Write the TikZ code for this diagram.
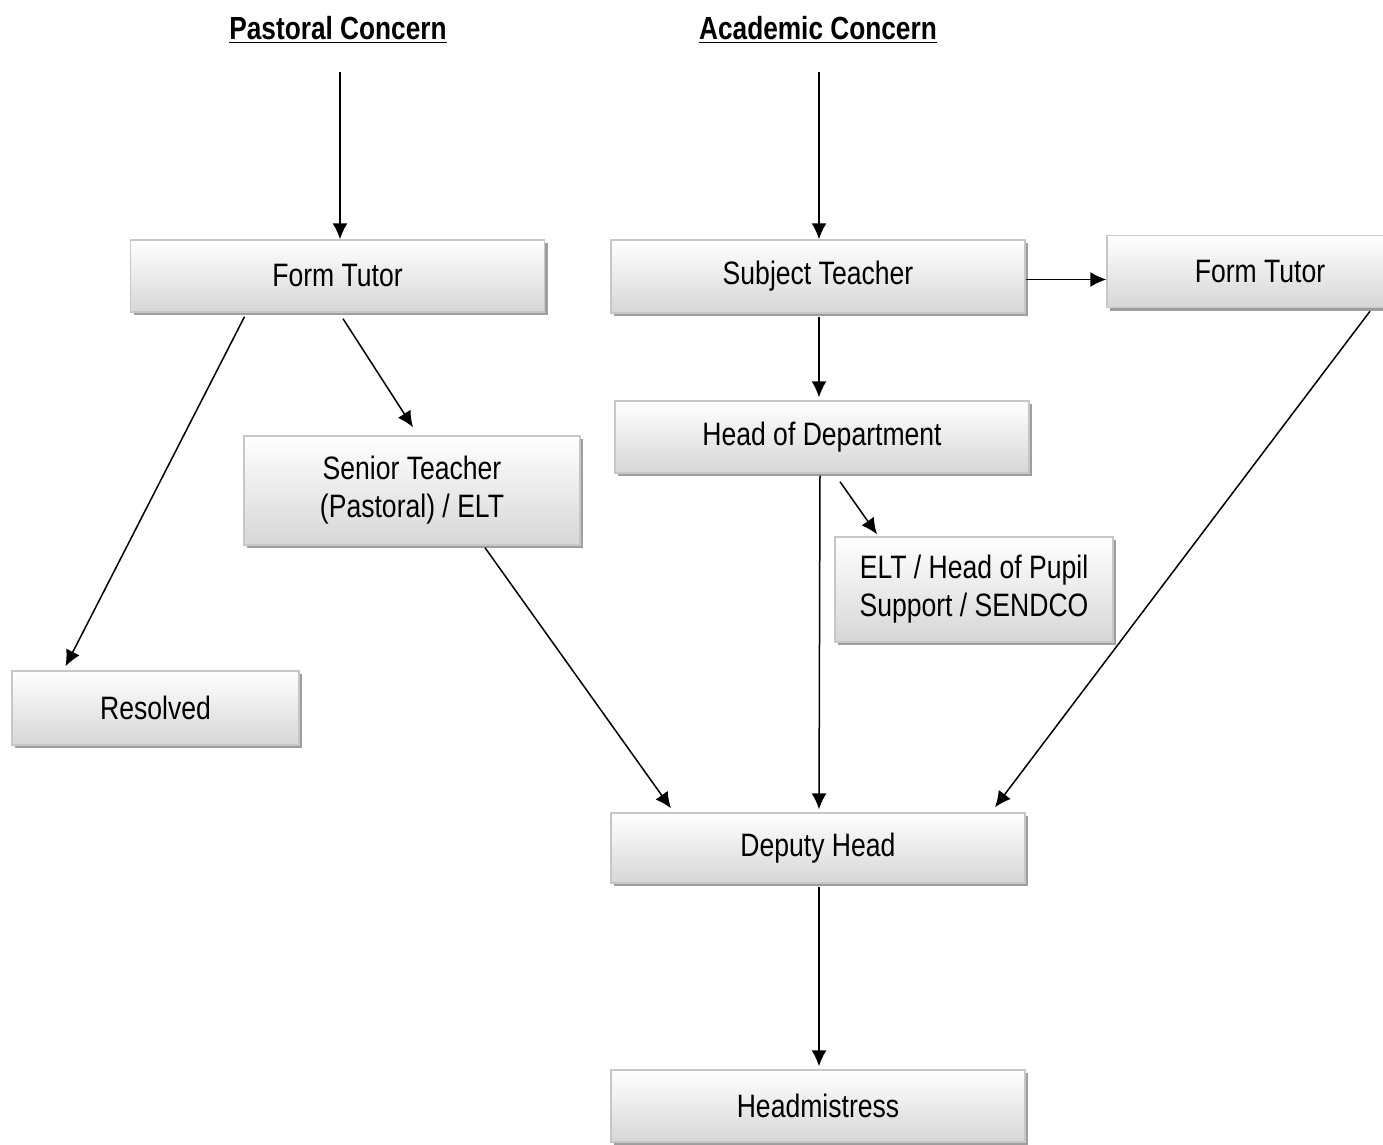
\documentclass[tikz,border=0pt]{standalone}
\usepackage{fontspec}
\setmainfont{Liberation Sans}[FakeStretch=0.82]
\usetikzlibrary{arrows.meta,calc,shadows}

\tikzset{
  box/.style={draw=black!22, line width=0.7pt, top color=white, bottom color=black!16,
    drop shadow={shadow xshift=1.6pt, shadow yshift=-1.6pt, fill=black!38, opacity=1},
    inner sep=0pt, align=center, font=\fontsize{16.2}{19}\selectfont},
  title/.style={font=\fontsize{16}{18}\selectfont\bfseries, inner sep=0pt},
  flow/.style={-{Latex[length=8pt,width=7.5pt]}, line width=0.75pt}
}

\begin{document}
\begin{tikzpicture}[x=0.5pt,y=-0.5pt]
  \useasboundingbox (0,0) rectangle (1383,1145);
  \clip (0,0) rectangle (1383,1145);
  % headings
  \node[title] (pastoral) at (338,30) {\underline{Pastoral Concern}};
  \node[title] (academic) at (818,30) {\underline{Academic Concern}};
  \coordinate (pStart) at (340,72);
  \coordinate (aStart) at (819,72);
  % boxes
  \node[box, minimum width=207pt, minimum height=36pt] (tutorP) at (337.5,276) {Form Tutor};
  \node[box, minimum width=207pt, minimum height=36.5pt] (subject) at (818,276.5) {Subject Teacher};
  \node[box, minimum width=153pt, minimum height=36pt] (tutorA) at (1260,271.5) {Form Tutor};
  \node[box, minimum width=207pt, minimum height=36pt] (hod) at (822,437) {Head of Department};
  \node[box, minimum width=168pt, minimum height=54.5pt] (senior) at (412,490.5) {Senior Teacher\\(Pastoral) / ELT};
  \node[box, minimum width=139pt, minimum height=52.5pt] (eltsup) at (974,589.5) {ELT / Head of Pupil\\Support / SENDCO};
  \node[box, minimum width=143.5pt, minimum height=37pt] (resolved) at (155.5,708) {Resolved};
  \node[box, minimum width=207pt, minimum height=35pt] (deputy) at (818,848) {Deputy Head};
  \node[box, minimum width=207pt, minimum height=36pt] (head) at (818,1106) {Headmistress};
  \coordinate (stRight) at ($(subject.east)+(0,3)$);
  % connectors
  \draw[flow] (pStart) -- (pStart |- tutorP.north);
  \draw[flow] (aStart) -- (aStart |- subject.north);
  \draw[flow] ($(tutorP.south)+(-93,4)$) -- ($(resolved.north)+(-90,-4)$);
  \draw[flow] ($(tutorP.south)+(5.5,6)$) -- ($(senior.north)+(1,-8)$);
  \draw[flow] (stRight) -- (stRight -| tutorA.west);
  \draw[flow] ($(subject.south)+(1,3)$) -- ($(hod.north)+(-3,-3)$);
  \draw[flow] ($(hod.south)+(-2,2)$) -- ($(deputy.north)+(1,-3)$);
  \draw[flow] ($(hod.south)+(18,8)$) -- ($(eltsup.north)+(-97,-2)$);
  \draw[flow] ($(senior.south)+(73,2)$) -- ($(deputy.north)+(-147,-4)$);
  \draw[flow] ($(tutorA.south)+(110,3)$) -- ($(deputy.north)+(177,-5)$);
  \draw[flow] ($(deputy.south)+(1,3)$) -- ($(head.north)+(1,-3)$);
\end{tikzpicture}
\end{document}
